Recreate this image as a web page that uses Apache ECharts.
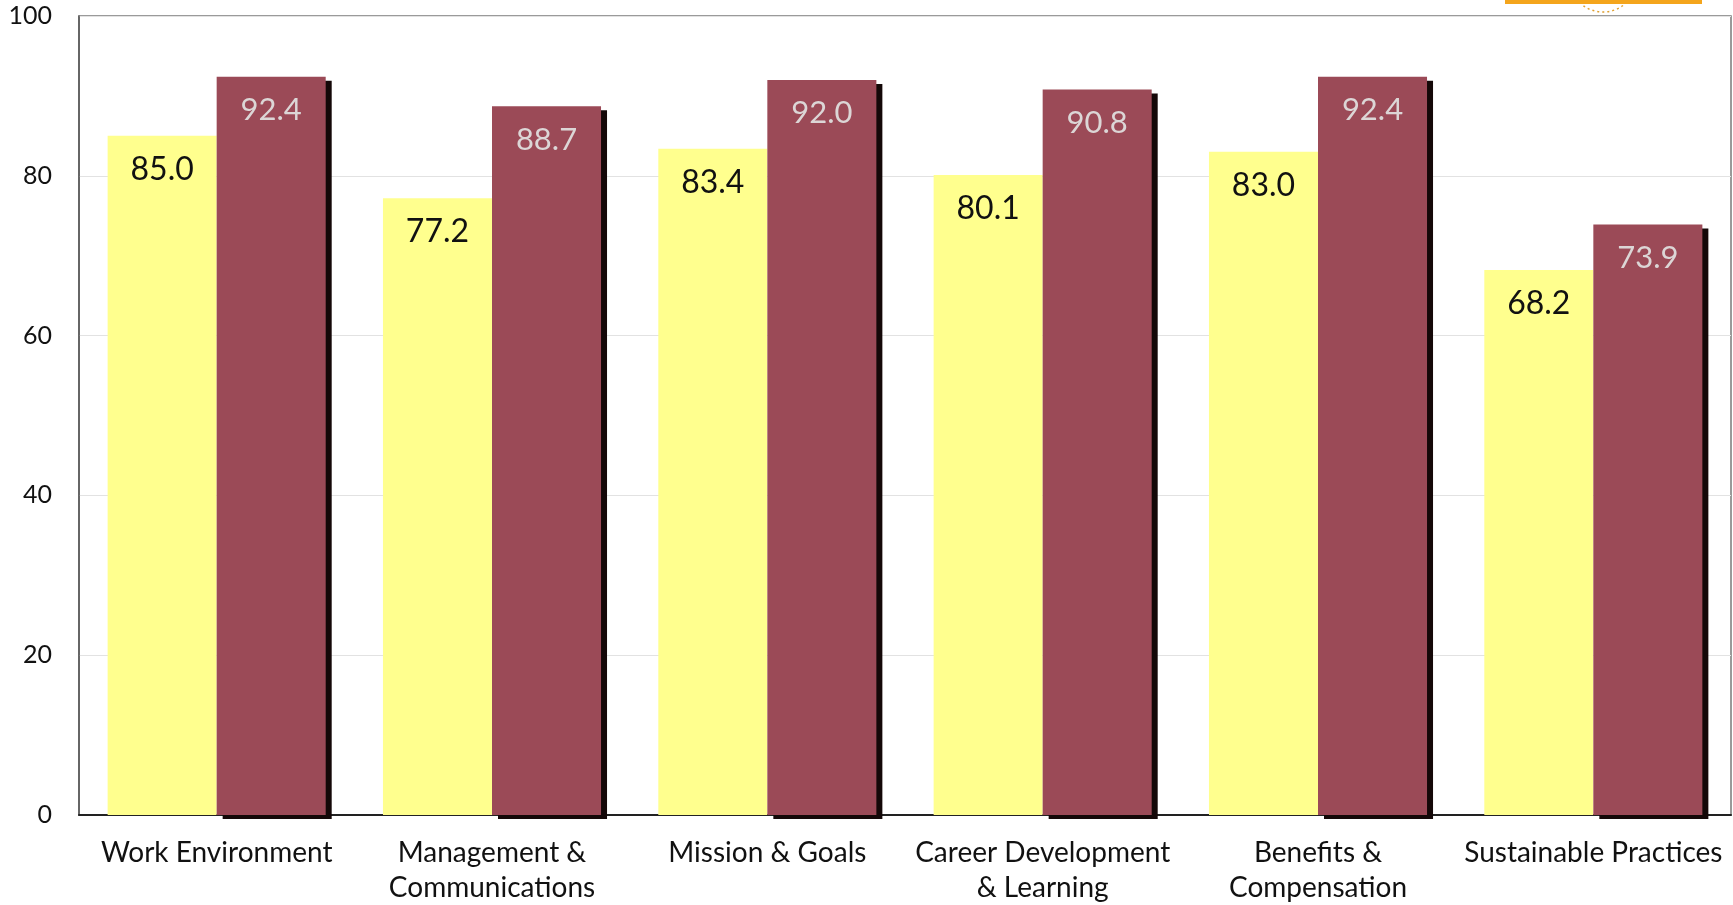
<!DOCTYPE html>
<html>
<head>
<meta charset="utf-8">
<style>
  html, body { margin: 0; padding: 0; background: #ffffff; }
  #chart { width: 1733px; height: 905px; }
</style>
<script src="https://cdn.jsdelivr.net/npm/echarts@6/dist/echarts.min.js"></script>
</head>
<body>
<div id="chart"></div>
<script>
// Survey categories and the two score series
const categories = [
  'Work Environment',
  'Management &\nCommunications',
  'Mission & Goals',
  'Career Development\n& Learning',
  'Benefits &\nCompensation',
  'Sustainable Practices'
];
const seriesA = [85.0, 77.2, 83.4, 80.1, 83.0, 68.2];
const seriesB = [92.4, 88.7, 92.0, 90.8, 92.4, 73.9];
const yTicks = [0, 20, 40, 60, 80, 100];

const FONT = 'Lato, "Open Sans", sans-serif';
const chart = echarts.init(document.getElementById('chart'), null, { renderer: 'canvas' });

chart.setOption({
  animation: false,
  backgroundColor: '#ffffff',
  grid: {
    left: 79, right: 2, top: 16, bottom: 90,
    outerBoundsMode: 'none',
    show: true, borderColor: '#7a7a7a', borderWidth: 1.5
  },
  graphic: [
    { type: 'rect', shape: { x: 1505, y: 0, width: 197, height: 4 }, style: { fill: '#f4a51c' } },
    { type: 'arc', shape: { cx: 1603, cy: -22, r: 34, startAngle: Math.PI * 0.3, endAngle: Math.PI * 0.7 },
      style: { stroke: '#e0a030', lineWidth: 1.5, lineDash: [2, 3], fill: null } }
  ],
  xAxis: {
    type: 'category',
    data: categories,
    axisTick: { show: false },
    axisLine: { show: true, lineStyle: { color: '#222', width: 2 } },
    axisLabel: {
      color: '#111', fontFamily: FONT, fontSize: 28, lineHeight: 35,
      margin: 20, interval: 0
    }
  },
  yAxis: {
    type: 'value',
    min: 0, max: 100, interval: 20,
    axisLine: { show: true, lineStyle: { color: '#555', width: 1.5 } },
    axisTick: { show: false },
    splitLine: { show: true, lineStyle: { color: '#e2e2e2', width: 1 } },
    axisLabel: {
      color: '#111', fontFamily: FONT, fontSize: 25, margin: 27,
      formatter: v => (yTicks.includes(v) ? String(v) : '')
    }
  },
  series: [
    {
      type: 'bar',
      data: seriesA,
      barWidth: '39.6%',
      barGap: '0%',
      itemStyle: { color: '#ffff8e' },
      label: {
        show: true, position: 'insideTop', distance: 18,
        formatter: p => p.value.toFixed(1),
        color: '#111', fontFamily: FONT, fontSize: 32
      }
    },
    {
      type: 'bar',
      data: seriesB,
      barWidth: '39.6%',
      barGap: '0%',
      itemStyle: {
        color: '#9b4a57',
        shadowColor: '#140808', shadowOffsetX: 6, shadowOffsetY: 4, shadowBlur: 0
      },
      label: {
        show: true, position: 'insideTop', distance: 18,
        formatter: p => p.value.toFixed(1),
        color: '#dcd6d6', fontFamily: FONT, fontSize: 31
      }
    }
  ]
});
</script>
</body>
</html>
